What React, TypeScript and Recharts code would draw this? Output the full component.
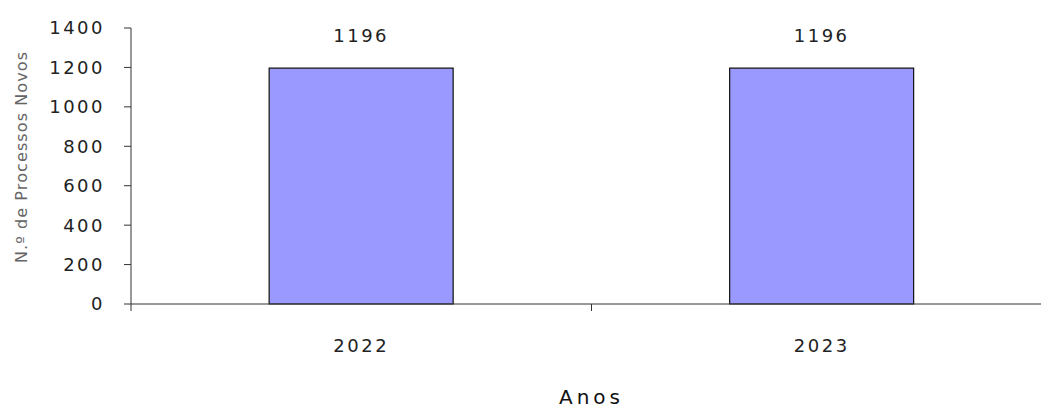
import { BarChart, Bar, XAxis, YAxis, LabelList } from "recharts";

const anos = ["2022", "2023"];
const processosNovos = [1196, 1196];
const yTicks = [0, 200, 400, 600, 800, 1000, 1200, 1400];

const data = anos.map((ano, i) => ({ ano, processos: processosNovos[i] }));

const font = "'DejaVu Sans', Verdana, sans-serif";
const X_TICK_MARGIN = 35;

// year label plus the small tick marks on the category boundaries
const YearTick = (props: any) => {
  const { x, y, payload, index } = props;
  const half = payload && payload.offset ? payload.offset : 230;
  const axisY = y - X_TICK_MARGIN;
  return (
    <g>
      {index === 0 && <line x1={x - half} x2={x - half} y1={axisY} y2={axisY + 7} stroke="#333" />}
      <line x1={x + half} x2={x + half} y1={axisY} y2={axisY + 7} stroke="#333" />
      <text x={x} y={y} dy="0.71em" textAnchor="middle" fill="#222" fontSize={18} letterSpacing={2.5}>
        {payload.value}
      </text>
    </g>
  );
};

const App = () => {
  return (
    <div style={{ position: "absolute", left: 0, top: 0, width: 1041, height: 410, overflow: "hidden", background: "#fff" }}>
      <BarChart
        width={1070}
        height={410}
        data={data}
        margin={{ top: 28, right: 18, bottom: 0, left: 0 }}
        barCategoryGap="30%"
        style={{ fontFamily: font }}
      >
        <XAxis
          dataKey="ano"
          stroke="#333"
          tickLine={false}
          tickSize={0}
          tickMargin={X_TICK_MARGIN}
          height={106}
          interval={0}
          tick={<YearTick />}
          label={{ value: "Anos", position: "insideBottom", offset: 6, fill: "#111", fontSize: 20, letterSpacing: 4 }}
        />
        <YAxis
          domain={[0, 1400]}
          ticks={yTicks}
          width={131}
          tickSize={7}
          tickMargin={19}
          stroke="#333"
          tick={{ fill: "#222", fontSize: 18, letterSpacing: 2.5 }}
          label={{
            value: "N.º de Processos Novos",
            angle: -90,
            position: "insideLeft",
            offset: 21,
            dy: -9,
            fill: "#666",
            fontSize: 16,
            letterSpacing: 1.1,
            style: { textAnchor: "middle" },
          }}
        />
        <Bar dataKey="processos" fill="#9999FF" stroke="#111" strokeWidth={1.2} isAnimationActive={false}>
          <LabelList dataKey="processos" position="top" offset={26} fill="#222" fontSize={18} letterSpacing={2.5} />
        </Bar>
      </BarChart>
    </div>
  );
};

export default App;
